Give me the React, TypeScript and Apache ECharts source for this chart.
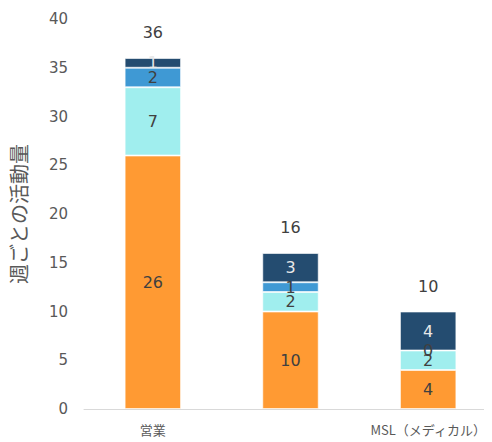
import React, { useEffect, useRef } from "react";
import * as echarts from "echarts";

const categories = ["営業", "KAM", "MSL（メディカル）"];
const seriesA = [26, 10, 4];
const seriesB = [7, 2, 2];
const seriesC = [2, 1, 0];
const seriesD = [1, 3, 4];
const yTicks = { min: 0, max: 40, interval: 5 };

export default function App() {
  const ref = useRef<HTMLDivElement>(null);
  useEffect(() => {
    if (!ref.current) return;
    const chart = echarts.init(ref.current, null, { renderer: "svg" });
    const totals = categories.map((_, i) => seriesA[i] + seriesB[i] + seriesC[i] + seriesD[i]);
    const font = "DejaVu Sans, Verdana, sans-serif";
    const mk = (name: string, data: number[], color: string, labelColor: string) => ({
      name,
      type: "bar",
      stack: "s",
      data,
      barWidth: "41%",
      itemStyle: { color, borderColor: "rgba(255,255,255,0.6)", borderWidth: 1 },
      label: {
        show: true,
        position: "inside",
        color: labelColor,
        fontSize: 16,
        fontFamily: font,
      },
      labelLayout: { hideOverlap: false },
    });
    chart.setOption({
      animation: false,
      grid: { left: 84, right: 0, top: 19, bottom: 33 },
      xAxis: {
        type: "category",
        data: categories,
        axisLine: { lineStyle: { color: "#D9D9D9" } },
        axisTick: { show: false },
        axisLabel: { color: "#595959", fontSize: 13, fontFamily: "Noto Sans CJK JP, " + font, margin: 14 },
      },
      yAxis: {
        type: "value",
        min: yTicks.min,
        max: yTicks.max,
        interval: yTicks.interval,
        splitLine: { show: false },
        axisLine: { show: false },
        axisTick: { show: false },
        axisLabel: { color: "#595959", fontSize: 15, fontFamily: font, margin: 16 },
        name: "週ごとの活動量",
        nameLocation: "middle",
        nameGap: 56,
        nameTextStyle: { color: "#595959", fontSize: 20, fontFamily: "Noto Sans CJK JP, sans-serif" },
      },
      series: [
        mk("A", seriesA, "#FF9A33", "#404040"),
        mk("B", seriesB, "#A0EEEE", "#404040"),
        mk("C", seriesC, "#3F99D4", "#404040"),
        mk("D", seriesD, "#244C70", "#E8E8E8"),
        {
          name: "total",
          type: "line",
          data: totals,
          symbol: "circle",
          symbolSize: 1,
          itemStyle: { color: "rgba(0,0,0,0)" },
          lineStyle: { color: "rgba(0,0,0,0)", width: 0 },
          label: {
            show: true,
            position: "top",
            distance: 17,
            color: "#404040",
            fontSize: 16,
            fontFamily: font,
          },
        },
      ],
    });
    return () => chart.dispose();
  }, []);
  return (
    <div style={{ width: 492, height: 442, marginLeft: -8, marginTop: -8, overflow: "hidden" }}>
      <div ref={ref} style={{ width: 497, height: 442 }} />
    </div>
  );
}
